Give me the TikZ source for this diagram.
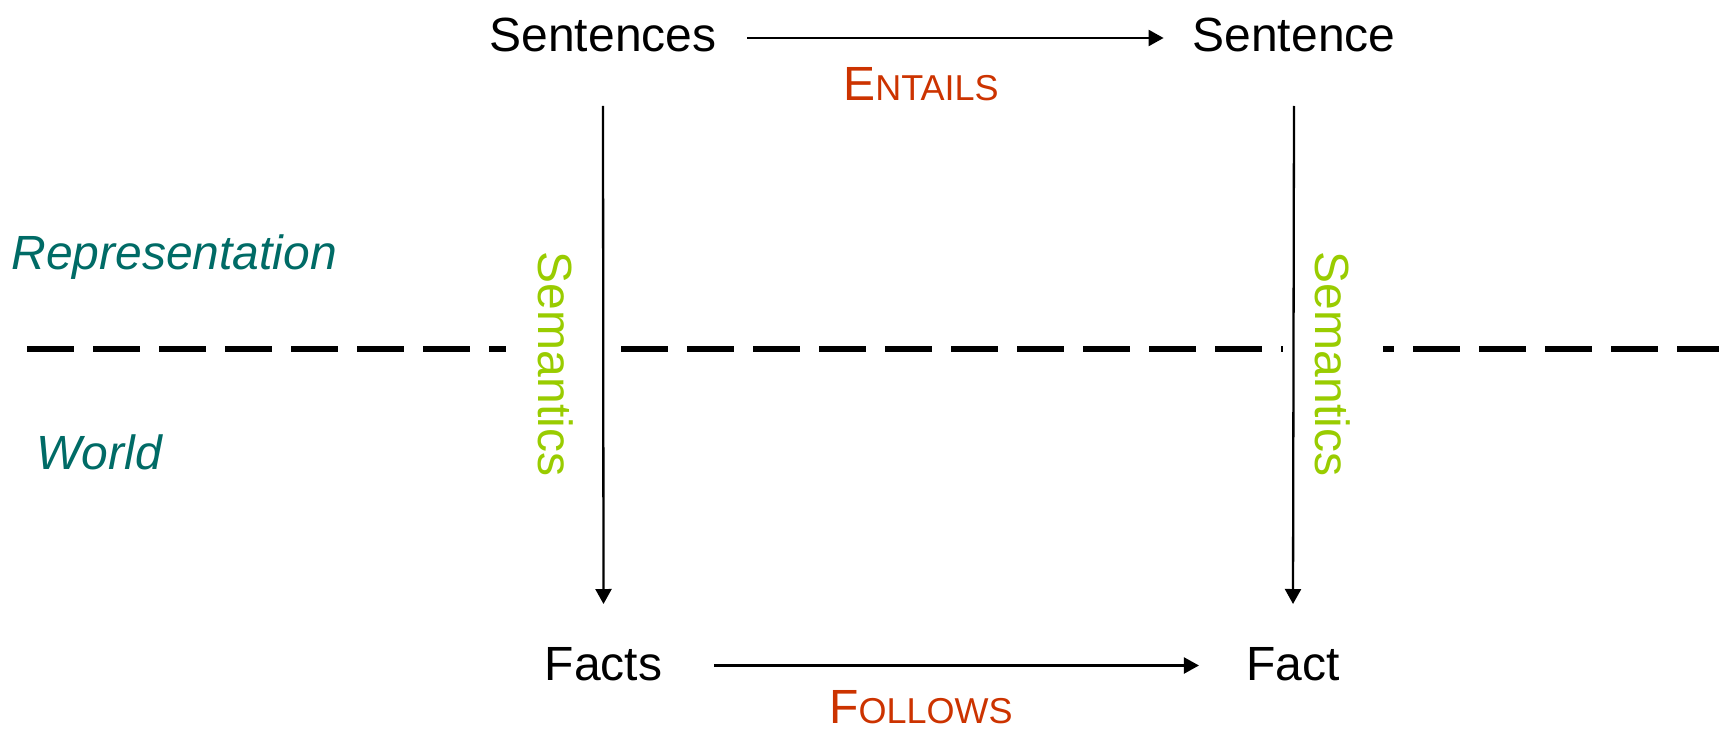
\documentclass[tikz,border=0pt]{standalone}
\usepackage{fontspec}
\setmainfont{Liberation Sans}
\usetikzlibrary{arrows.meta}
\definecolor{redc}{HTML}{CC3300}
\definecolor{tealc}{HTML}{006B66}
\definecolor{greenc}{HTML}{99CC00}
\newcommand{\bigsz}{\fontsize{24}{28}\selectfont}
\newcommand{\smsz}{\fontsize{18}{20}\selectfont}
\begin{document}
\begin{tikzpicture}[x=0.5pt,y=-0.5pt,
  lbl/.style={inner sep=0pt, font=\bigsz, anchor=base},
  rel/.style={inner sep=0pt, text=redc, anchor=base},
  side/.style={inner sep=0pt, text=tealc, font=\bigsz\itshape, anchor=base west},
  sem/.style={rotate=-90, fill=white, text=greenc, font=\bigsz, inner xsep=0pt, inner ysep=16pt},
  arr/.style={line width=1.15pt, -{Triangle[length=7.5pt,width=8pt]}},
  sepline/.style={line width=2.75pt, dash pattern=on 23.5pt off 9.5pt}]
\useasboundingbox (0,0) rectangle (1719,733);
\coordinate (dl) at (27,349);
\coordinate (dr) at (1719,349);
\draw[sepline] (dl) -- (dr);
\node[lbl] (Sentences) at (603,51.5) {Sentences};
\node[lbl] (Sentence) at (1294,51.5) {Sentence};
\node[lbl] (Facts) at (603.5,680) {Facts};
\node[lbl] (Fact) at (1293,680) {Fact};
\node[rel] (entails) at (921,101) {\bigsz E\smsz NTAILS};
\node[rel] (follows) at (921,723) {\bigsz F\smsz OLLOWS};
\node[side] (repr) at (11,269) {Representation};
\node[side] (world) at (36,469) {World};
\node[sem] (semL) at (556,364) {Semantics};
\node[sem] (semR) at (1333,364) {Semantics};
\draw[arr] ([xshift=15.25pt,yshift=6.75pt]Sentences.base east) -- ([xshift=-14.3pt,yshift=6.75pt]Sentence.base west);
\draw[arr] ([xshift=25.8pt,yshift=7.25pt]Facts.base east) -- ([xshift=-23.5pt,yshift=7.25pt]Fact.base west);
\draw[arr] ([yshift=-27.25pt]Sentences.base) -- ([yshift=38pt]Facts.base);
\draw[arr] ([yshift=-27.25pt]Sentence.base) -- ([yshift=38pt]Fact.base);
\end{tikzpicture}
\end{document}
